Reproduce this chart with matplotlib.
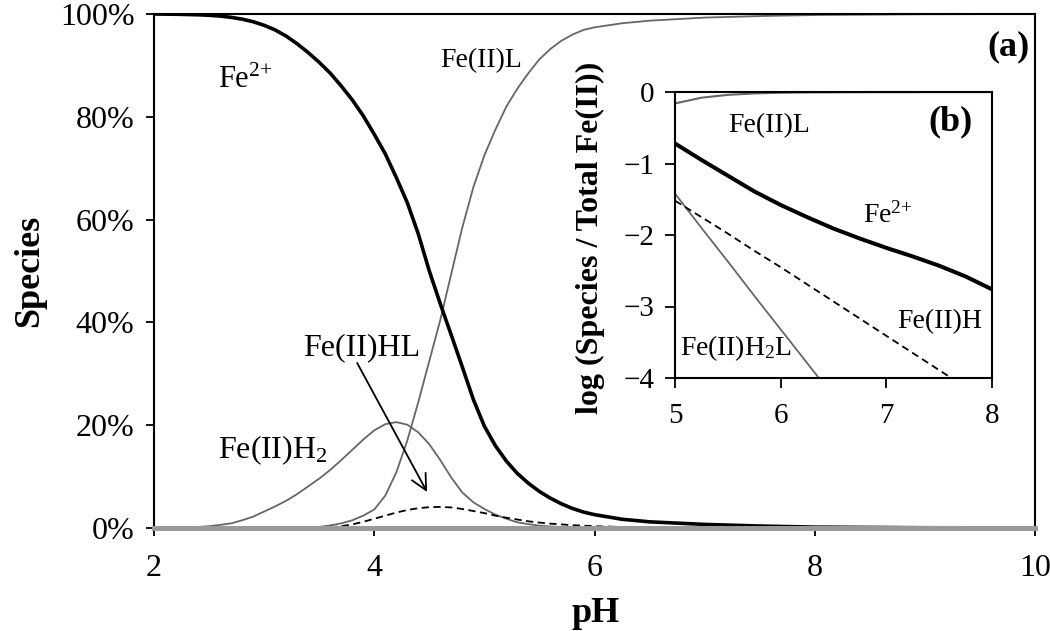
import matplotlib
matplotlib.use("Agg")
import matplotlib.pyplot as plt

plt.rcParams['font.family'] = ['Liberation Serif', 'DejaVu Serif']
plt.rcParams['mathtext.fontset'] = 'custom'
plt.rcParams['mathtext.rm'] = 'Liberation Serif'
plt.rcParams['mathtext.it'] = 'Liberation Serif'
plt.rcParams['mathtext.bf'] = 'Liberation Serif:bold'

# ---------------- main panel (a) data: % of total Fe(II) ----------------
ph = [2.0, 2.2, 2.4, 2.5, 2.6, 2.7, 2.8, 2.9, 3.0, 3.1, 3.2, 3.3, 3.4,
      3.5, 3.6, 3.7, 3.8, 3.9, 4.0, 4.1, 4.2, 4.3, 4.4, 4.5, 4.6, 4.7, 4.8, 4.9,
      5.0, 5.1, 5.2, 5.3, 5.4, 5.5, 5.6, 5.7, 5.8, 5.9, 6.0,
      6.25, 6.5, 7.0, 7.5, 8.0, 9.0, 10.0]
fe2 = [100, 99.95, 99.85, 99.75, 99.6, 99.35, 99.0, 98.5, 97.8, 96.9, 95.7, 94.2, 92.5,
       90.6, 88.5, 86.0, 83.3, 80.2, 76.6, 72.8, 68.2, 63.3, 57.2, 50.0, 43.6, 37.5, 31.3, 25.0,
       19.8, 16.0, 13.0, 10.6, 8.7, 7.1, 5.8, 4.7, 3.8, 3.1, 2.6,
       1.7, 1.2, 0.7, 0.38, 0.17, 0.05, 0.02]
fe_l = [0, 0, 0, 0, 0, 0, 0, 0, 0.02, 0.03, 0.05, 0.08, 0.12,
        0.2, 0.5, 0.9, 1.5, 2.4, 3.6, 6.3, 10.8, 17.0, 24.5, 32.5, 40.5, 49.5, 58.5, 66.3,
        72.5, 77.5, 82.0, 85.5, 88.5, 91.2, 93.2, 94.8, 96.0, 96.9, 97.4,
        98.2, 98.7, 99.3, 99.6, 99.8, 99.95, 100]
fe_h2l = [0, 0.05, 0.2, 0.35, 0.6, 0.9, 1.5, 2.2, 3.2, 4.2, 5.3, 6.6, 8.1,
          9.6, 11.3, 13.2, 15.2, 17.2, 19.0, 20.2, 20.6, 20.1, 18.6, 16.3, 13.2, 9.8, 6.9, 5.0,
          3.7, 2.6, 1.8, 1.1, 0.75, 0.45, 0.3, 0.2, 0.12, 0.08, 0.05,
          0.02, 0.01, 0, 0, 0, 0, 0]
fe_hl = [0, 0, 0, 0, 0, 0, 0, 0, 0, 0, 0, 0.01, 0.02,
         0.05, 0.15, 0.35, 0.7, 1.2, 1.8, 2.4, 3.0, 3.5, 3.85, 4.05, 4.1, 4.0, 3.7, 3.3,
         2.9, 2.4, 2.0, 1.65, 1.3, 1.05, 0.85, 0.7, 0.55, 0.45, 0.35,
         0.2, 0.12, 0.04, 0.01, 0, 0, 0]

y_ticks = [0, 20, 40, 60, 80, 100]
y_tick_labels = ['0%', '20%', '40%', '60%', '80%', '100%']
x_ticks = [2, 4, 6, 8, 10]

# ---------------- inset panel (b) data: log10(fraction) ----------------
ph_in = [5.0, 5.25, 5.5, 5.75, 6.0, 6.25, 6.5, 6.75, 7.0, 7.25, 7.5, 7.75, 8.0]
log_fe2 = [-0.72, -0.95, -1.17, -1.39, -1.58, -1.75, -1.91, -2.05, -2.18, -2.30, -2.43, -2.58, -2.76]
log_fe_l = [-0.16, -0.08, -0.04, -0.02, -0.01, -0.006, -0.004, -0.003, -0.002, -0.002, -0.001, -0.001, -0.001]
log_fe_h2l = [-1.42, -1.90, -2.37, -2.85, -3.32, -3.79, -4.26, -4.73, -5.2, -5.67, -6.14, -6.61, -7.08]
log_fe_hl = [-1.52, -1.75, -1.98, -2.22, -2.45, -2.69, -2.93, -3.17, -3.41, -3.65, -3.89, -4.13, -4.37]
in_x_ticks = [5, 6, 7, 8]
in_y_ticks = [-4, -3, -2, -1, 0]

W, H = 1050, 631
fig = plt.figure(figsize=(W / 100, H / 100), dpi=100)


def fx(x):
    return x / W


def fy(y):
    return 1 - y / H


GRAY = '#666666'

# main axes
ax = fig.add_axes([fx(154), fy(528), fx(1035) - fx(154), fy(14) - fy(528)])
ax.plot(ph, fe_h2l, color=GRAY, lw=1.3, zorder=2)
ax.plot(ph, fe_l, color=GRAY, lw=1.3, zorder=2)
ax.plot(ph, fe_hl, color='black', lw=1.3, linestyle=(0, (4, 2.5)), zorder=2)
ax.plot(ph, fe2, color='black', lw=2.6, zorder=2.1)
ax.set_xlim(2, 10)
ax.set_ylim(0, 100)
ax.set_xticks(x_ticks)
ax.set_xticklabels([str(v) for v in x_ticks])
ax.set_yticks(y_ticks)
ax.set_yticklabels(y_tick_labels)
for s in ['left', 'top', 'right']:
    ax.spines[s].set_linewidth(1.5)
    ax.spines[s].set_color('black')
ax.spines['bottom'].set_linewidth(3.6)
ax.spines['bottom'].set_color('#999999')
ax.spines['bottom'].set_zorder(3)
ax.tick_params(direction='out', length=6, width=1.3, color='black', labelsize=23, pad=8)
ax.tick_params(axis='x', pad=13)

fig.text(fx(30), fy(271), 'Species', rotation=90, ha='center', va='center',
         fontsize=26, fontweight='bold')
fig.text(fx(596), fy(614), 'pH', ha='center', va='center', fontsize=26, fontweight='bold')

# main annotations
fig.text(fx(218), fy(88), r'Fe$^{2{+}}$', ha='left', va='baseline', fontsize=22)
fig.text(fx(440), fy(67), 'Fe(II)L', ha='left', va='baseline', fontsize=20)
fig.text(fx(303), fy(355), 'Fe(II)HL', ha='left', va='baseline', fontsize=23)
fig.text(fx(218), fy(458), r'Fe(II)H$_2$', ha='left', va='baseline', fontsize=23)
fig.text(fx(1030), fy(47), '(a)', ha='right', va='center', fontsize=26, fontweight='bold')
ax.annotate('', xy=(4.48, 7.0), xytext=(3.845, 32.1),
            arrowprops=dict(arrowstyle='->', color='black', lw=1.3, mutation_scale=28,
                            shrinkA=0, shrinkB=0))

# inset axes
ax2 = fig.add_axes([fx(675), fy(378), fx(992) - fx(675), fy(92) - fy(378)], zorder=5)
ax2.set_facecolor('white')
ax2.plot(ph_in, log_fe_h2l, color=GRAY, lw=1.3)
ax2.plot(ph_in, log_fe_hl, color='black', lw=1.3, linestyle=(0, (4, 2.5)))
ax2.plot(ph_in, log_fe2, color='black', lw=2.9)
ax2.plot(ph_in, log_fe_l, color=GRAY, lw=1.5)
ax2.set_xlim(5, 8)
ax2.set_ylim(-4, 0)
ax2.set_xticks(in_x_ticks)
ax2.set_yticks(in_y_ticks)
for s in ax2.spines.values():
    s.set_linewidth(1.5)
    s.set_color('black')
ax2.tick_params(direction='out', length=7, width=1.3, labelsize=21, pad=8)
ax2.tick_params(axis='x', pad=11)

fig.text(fx(590), fy(238), 'log (Species / Total Fe(II))', rotation=90, ha='center',
         va='center', fontsize=23, fontweight='bold', zorder=6)
fig.text(fx(728), fy(132), 'Fe(II)L', ha='left', va='baseline', fontsize=20, zorder=6)
fig.text(fx(950), fy(122), '(b)', ha='center', va='center', fontsize=26,
         fontweight='bold', zorder=6)
fig.text(fx(863), fy(223), r'Fe$^{2{+}}$', ha='left', va='baseline', fontsize=20, zorder=6)
fig.text(fx(897), fy(328), 'Fe(II)H', ha='left', va='baseline', fontsize=20, zorder=6)
fig.text(fx(680), fy(355), r'Fe(II)H$_2$L', ha='left', va='baseline', fontsize=20, zorder=6)

fig.savefig('out.png', dpi=100, facecolor='white')
